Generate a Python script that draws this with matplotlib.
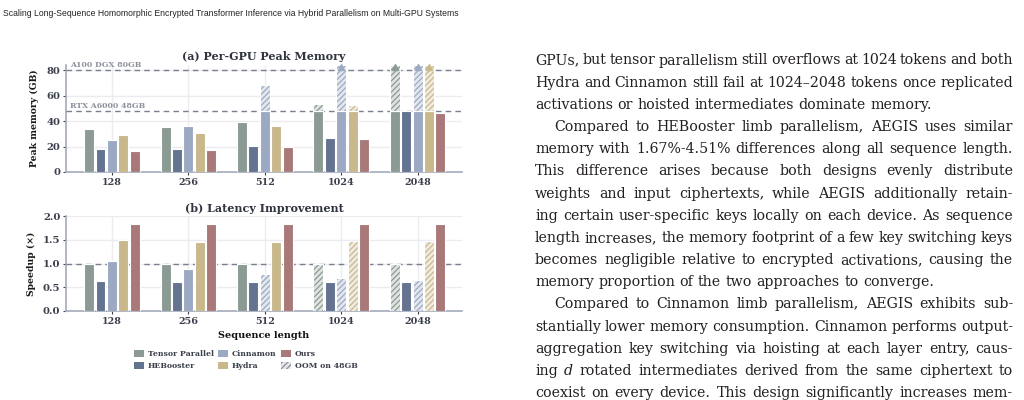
import numpy as np
import matplotlib
matplotlib.use("Agg")
import matplotlib.pyplot as plt
from matplotlib.patches import Patch
from matplotlib.colors import to_rgb

seq_labels = ["128", "256", "512", "1024", "2048"]
methods = ["Tensor Parallel", "HEBooster", "Cinnamon", "Hydra", "Ours"]
colors = ["#8b9b93", "#647390", "#9ca9c2", "#c9b88b", "#a97878"]

# per-GPU peak memory (GB); 84 = bar runs off the top of the axis
mem_tp = [34.0, 35.6, 39.5, 53.3, 84.0]
mem_heb = [17.8, 18.3, 20.7, 26.9, 47.6]
mem_cin = [24.8, 36.3, 68.2, 84.0, 84.0]
mem_hydra = [29.3, 30.8, 35.8, 52.3, 84.0]
mem_ours = [16.7, 17.5, 19.6, 26.1, 46.5]

# latency speedup (x)
spd_tp = [1.00, 1.00, 1.00, 1.00, 1.00]
spd_heb = [0.63, 0.62, 0.62, 0.61, 0.61]
spd_cin = [1.05, 0.89, 0.78, 0.70, 0.65]
spd_hydra = [1.50, 1.45, 1.45, 1.47, 1.47]
spd_ours = [1.84, 1.83, 1.83, 1.83, 1.83]

gpu_caps = [80, 48]
gpu_names = ["A100 DGX 80GB", "RTX A6000 48GB"]

header = ("Scaling Long-Sequence Homomorphic Encrypted Transformer Inference "
          "via Hybrid Parallelism on Multi-GPU Systems")
# (text, indent, justify)
body = [
    ("GPUs, but tensor parallelism still overflows at 1024 tokens and both", 0, 1),
    ("Hydra and Cinnamon still fail at 1024\u20132048 tokens once replicated", 0, 1),
    ("activations or hoisted intermediates dominate memory.", 0, 0),
    ("Compared to HEBooster limb parallelism, AEGIS uses similar", 1, 1),
    ("memory with 1.67%-4.51% differences along all sequence length.", 0, 1),
    ("This difference arises because both designs evenly distribute", 0, 1),
    ("weights and input ciphertexts, while AEGIS additionally retain-", 0, 1),
    ("ing certain user-specific keys locally on each device. As sequence", 0, 1),
    ("length increases, the memory footprint of a few key switching keys", 0, 1),
    ("becomes negligible relative to encrypted activations, causing the", 0, 1),
    ("memory proportion of the two approaches to converge.", 0, 0),
    ("Compared to Cinnamon limb parallelism, AEGIS exhibits sub-", 1, 1),
    ("stantially lower memory consumption. Cinnamon performs output-", 0, 1),
    ("aggregation key switching via hoisting at each layer entry, caus-", 0, 1),
    ("ing _d_ rotated intermediates derived from the same ciphertext to", 0, 1),
    ("coexist on every device. This design significantly increases mem-", 0, 1),
]

W, H = 1024, 400
mem = [mem_tp, mem_heb, mem_cin, mem_hydra, mem_ours]
spd = [spd_tp, spd_heb, spd_cin, spd_hydra, spd_ours]
x = np.arange(len(seq_labels))
step = 0.149
bw = 0.13
offs = (np.arange(len(methods)) - 2) * step
oom = [np.array(m) > 48 for m in mem]

txt_dark = "#3b3f4c"
plt.rcParams["font.family"] = "DejaVu Serif"
plt.rcParams["font.weight"] = "bold"
plt.rcParams["axes.labelweight"] = "bold"
plt.rcParams["hatch.linewidth"] = 0.9


def light(c, a=0.28):
    rgb = np.array(to_rgb(c))
    return tuple(1 - (1 - rgb) * a)


fig = plt.figure(figsize=(W / 100, H / 100), dpi=100)
ax1 = fig.add_axes([66 / W, 1 - 172 / H, 396 / W, 107 / H])
ax2 = fig.add_axes([66 / W, 1 - 311 / H, 396 / W, 95 / H])

for ax in (ax1, ax2):
    ax.set_xlim(-0.6, 4.58)
    ax.set_xticks(x)
    ax.set_xticklabels(seq_labels)
    ax.grid(True, color="#ebebf0", lw=1, zorder=0)
    ax.set_axisbelow(True)
    for s in ("top", "right"):
        ax.spines[s].set_visible(False)
    for s in ("left", "bottom"):
        ax.spines[s].set_color("#a3aabb")
        ax.spines[s].set_linewidth(1.2)
        ax.spines[s].set_zorder(1)
    ax.tick_params(axis="x", length=2.5, width=0.8, pad=2, labelsize=6.9,
                   colors=txt_dark)
    ax.tick_params(axis="y", length=2, width=0.8, pad=2, labelsize=7.2,
                   colors=txt_dark)

# (a) memory
for i, c in enumerate(colors):
    v = np.array(mem[i])
    solid = np.minimum(v, 48)
    ax1.bar(x + offs[i], solid, bw, color=c, edgecolor="white", lw=0.8, zorder=3)
    ov = oom[i]
    if ov.any():
        ax1.bar((x + offs[i])[ov], (v - 48)[ov], bw, bottom=48, facecolor=light(c),
                edgecolor=c, hatch="//////", lw=0, zorder=3)
        ax1.bar((x + offs[i])[ov], (v - 48)[ov], bw, bottom=48, fill=False,
                edgecolor="white", lw=0.8, zorder=4)
    top = v >= 84
    if top.any():
        ax1.plot((x + offs[i])[top], np.full(top.sum(), 82.2), ls="none",
                 marker="^", ms=5, color=c, mec=c, zorder=5, clip_on=False)

ax1.set_ylim(0, 84)
ax1.set_yticks([0, 20, 40, 60, 80])
for cap, name in zip(gpu_caps, gpu_names):
    ax1.axhline(cap, color="#7a7f8c", lw=1, ls=(0, (4, 3)), zorder=2)
    ax1.text(-0.55, cap + 1.0, name, fontsize=5.6, color="#8c909b",
             ha="left", va="bottom", zorder=6)
ax1.set_ylabel("Peak memory (GB)", fontsize=6.7, color="#1a1a1a")
ax1.yaxis.set_label_coords(-0.068, 0.5)

# (b) latency
for i, c in enumerate(colors):
    v = np.array(spd[i])
    ov = oom[i]
    ax2.bar((x + offs[i])[~ov], v[~ov], bw, color=c, edgecolor="white",
            lw=0.8, zorder=3)
    if ov.any():
        ax2.bar((x + offs[i])[ov], v[ov], bw, facecolor=light(c), edgecolor=c,
                hatch="//////", lw=0, zorder=3)
        ax2.bar((x + offs[i])[ov], v[ov], bw, fill=False, edgecolor="white",
                lw=0.8, zorder=4)
ax2.axhline(1.0, color="#7a7f8c", lw=1, ls=(0, (4, 3)), zorder=2)
ax2.set_ylim(0, 2.0)
ax2.set_yticks([0, 0.5, 1.0, 1.5, 2.0])
ax2.set_yticklabels(["0.0", "0.5", "1.0", "1.5", "2.0"])
ax2.set_ylabel("Speedup (\u00d7)", fontsize=6.7, color="#1a1a1a")
ax2.yaxis.set_label_coords(-0.075, 0.5)

fig.text(264 / W, 1 - 56 / H, "(a) Per-GPU Peak Memory", ha="center",
         va="center", fontsize=8.0, color="#30343f")
fig.text(264 / W, 1 - 208 / H, "(b) Latency Improvement", ha="center",
         va="center", fontsize=8.0, color="#30343f")
fig.text(264 / W, 1 - 336 / H, "Sequence length", ha="center", va="center",
         fontsize=7.0, color="#111111")

handles = [Patch(facecolor=c, edgecolor="none") for c in colors]
handles.append(Patch(facecolor="#e6e6ea", edgecolor="#8a8f99", hatch="//////", lw=0))
fig.legend(handles, methods + ["OOM on 48GB"], ncol=3, frameon=False,
           loc="upper left", bbox_to_anchor=(134 / W, 1 - 350 / H),
           borderaxespad=0, borderpad=0, fontsize=5.6, handlelength=1.25,
           handleheight=0.95, handletextpad=0.5, columnspacing=0.6,
           labelspacing=0.5, labelcolor=txt_dark)

# page text
renderer = fig.canvas.get_renderer()
hd = fig.text(3 / W, 1 - 13 / H, header, fontsize=9,
              family=["Liberation Sans Narrow", "Liberation Sans"],
              weight="normal", va="center", ha="left", color="#222222")
hw = hd.get_window_extent(renderer).width
hd.set_fontsize(min(9 * 454 / hw, 9.0))

body_font = dict(family="DejaVu Serif", weight="normal",
                 va="baseline", ha="left", color="#231f20")
# size the body font so an unjustified line has its natural width
probe = fig.text(0, 0, body[2][0], fontsize=10, **body_font)
fs = 10 * 398 / probe.get_window_extent(renderer).width
probe.remove()
body_font["fontsize"] = fs
probe = fig.text(0, 0, "a a", **body_font)
probe2 = fig.text(0, 0, "aa", **body_font)
space_w = probe.get_window_extent(renderer).width - probe2.get_window_extent(renderer).width
probe.remove()
probe2.remove()

x0, x1 = 535, 1013
for k, (line, indent, just) in enumerate(body):
    yb = 64.5 + k * 22.17
    start = x0 + (19 if indent else 0)
    arts = []
    for wd in line.split(" "):
        st = "normal"
        if wd == "_d_":
            wd, st = "d", "italic"
        arts.append(fig.text(0, 1 - yb / H, wd, style=st, **body_font))
    widths = [t.get_window_extent(renderer).width for t in arts]
    gap = (x1 - start - sum(widths)) / (len(arts) - 1) if just else space_w
    xp = start
    for t, wdt in zip(arts, widths):
        t.set_x(xp / W)
        xp += wdt + gap

fig.savefig("out.png", dpi=100, facecolor="white")
